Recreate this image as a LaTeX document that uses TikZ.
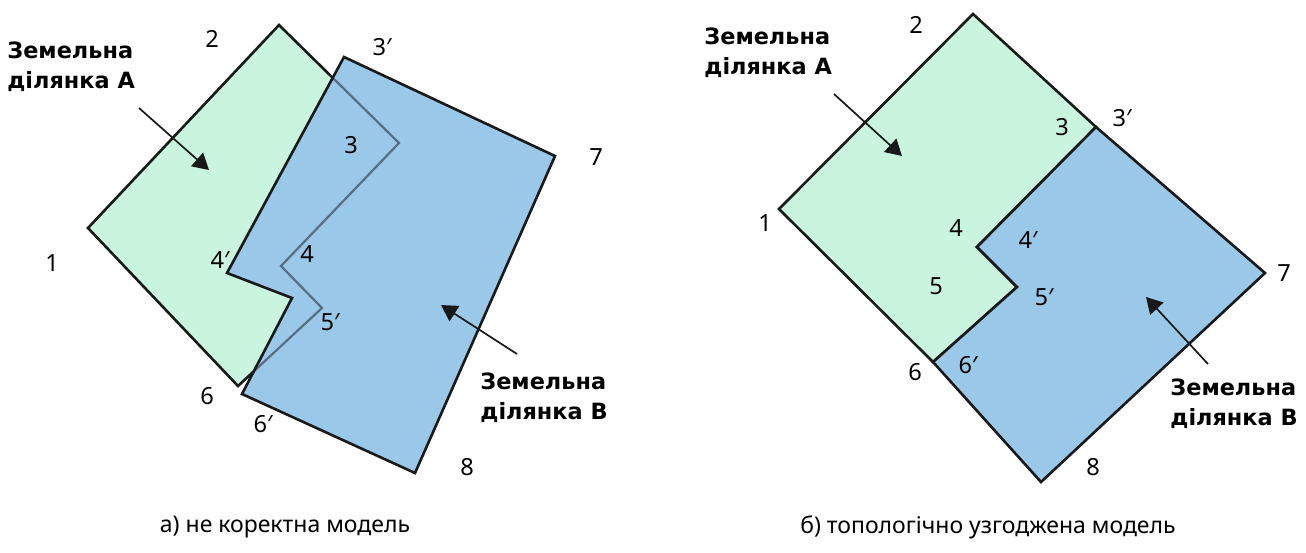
\documentclass[tikz,border=0pt]{standalone}
\usepackage{fontspec}
\setmainfont{Noto Sans}
\newfontfamily\titlefont{DejaVu Sans}
\usetikzlibrary{arrows.meta}
\definecolor{plotgreen}{RGB}{201,245,223}
\definecolor{plotblue}{RGB}{154,200,232}
\definecolor{hiddenline}{RGB}{88,110,130}
\begin{document}
\begin{tikzpicture}[x=0.5pt,y=-0.5pt,
		plotA/.style={fill=plotgreen,draw=black!90,line width=1.3pt,line join=miter},
		plotB/.style={fill=plotblue,draw=black!90,line width=1.3pt,line join=miter},
		hidden/.style={draw=hiddenline,line width=1.1pt},
		num/.style={font=\fontsize{11.8}{14}\selectfont,inner sep=0pt},
		plotname/.style={font=\titlefont\bfseries\fontsize{11.2}{15}\selectfont,align=left,anchor=west,inner sep=0pt},
		pointer/.style={draw=black!90,line width=0.85pt,-{Triangle[length=8pt,width=9pt]}},
		caption/.style={font=\fontsize{11.5}{14}\selectfont}]
	\useasboundingbox (0,0) rectangle (1306,552);
	% a) vertices
	\coordinate (a1) at (88,228);   \coordinate (a2) at (279,25);
	\coordinate (a3) at (399,143);  \coordinate (a4) at (281,266);
	\coordinate (a5) at (322,308);  \coordinate (a6) at (238,386);
	\coordinate (b3) at (344,57);   \coordinate (b7) at (555,156);
	\coordinate (b8) at (415,473);  \coordinate (b6) at (242,394);
	\coordinate (b5) at (292,298);  \coordinate (b4) at (227,273);
	% a) parcels
	\path[plotA] (a1) -- (a2) -- (a3) -- (a4) -- (a5) -- (a6) -- cycle;
	\path[plotB,draw=none] (b3) -- (b7) -- (b8) -- (b6) -- (b5) -- (b4) -- cycle;
	\begin{scope}
		\clip (b3) -- (b7) -- (b8) -- (b6) -- (b5) -- (b4) -- cycle;
		\path[hidden] (a1) -- (a2) -- (a3) -- (a4) -- (a5) -- (a6) -- cycle;
	\end{scope}
	\path[plotB,fill=none] (b3) -- (b7) -- (b8) -- (b6) -- (b5) -- (b4) -- cycle;
	% a) labels
	\node[num] (na2) at (212,39) {2};
	\node[num] (na3') at (382,47) {3′};
	\node[num] (na3) at (351,145) {3};
	\node[num] (na7) at (596,157) {7};
	\node[num] (na1) at (52,263) {1};
	\node[num] (na4') at (220,260) {4′};
	\node[num] (na4) at (307,254) {4};
	\node[num] (na5') at (330,322) {5′};
	\node[num] (na6) at (207,396) {6};
	\node[num] (na6') at (263,424) {6′};
	\node[num] (na8) at (467,467) {8};
	\node[plotname] (titleA) at (7,67) {Земельна\\ділянка А};
	\node[plotname] (titleB) at (480,398) {Земельна\\ділянка В};
	\coordinate (fromA) at (139,108); \coordinate (toA) at (209,170);
	\coordinate (fromB) at (517,354); \coordinate (toB) at (441,305);
	\draw[pointer] (fromA) -- (toA);
	\draw[pointer] (fromB) -- (toB);
	\node[caption] (capA) at (285,527) {а) не коректна модель};
	% b) vertices
	\coordinate (r1) at (779,209);  \coordinate (r2) at (973,14);
	\coordinate (r3) at (1096,127); \coordinate (r4) at (977,247);
	\coordinate (r5) at (1017,287); \coordinate (r6) at (933,362);
	\coordinate (r7) at (1265,273); \coordinate (r8) at (1041,482);
	% b) parcels
	\path[plotA] (r1) -- (r2) -- (r3) -- (r4) -- (r5) -- (r6) -- cycle;
	\path[plotB] (r3) -- (r7) -- (r8) -- (r6) -- (r5) -- (r4) -- cycle;
	% b) labels
	\node[num] (nb2) at (916,25) {2};
	\node[num] (nb3) at (1062,127) {3};
	\node[num] (nb3') at (1122,118) {3′};
	\node[num] (nb1) at (765,223) {1};
	\node[num] (nb4) at (956,228) {4};
	\node[num] (nb4') at (1028,240) {4′};
	\node[num] (nb5) at (936,286) {5};
	\node[num] (nb5') at (1044,297) {5′};
	\node[num] (nb7) at (1284,273) {7};
	\node[num] (nb6) at (915,372) {6};
	\node[num] (nb6') at (968,365) {6′};
	\node[num] (nb8) at (1093,467) {8};
	\node[plotname] (titleRA) at (704,53) {Земельна\\ділянка А};
	\node[plotname] (titleRB) at (1170,404) {Земельна\\ділянка В};
	\coordinate (fromRA) at (834,94);   \coordinate (toRA) at (902,156);
	\coordinate (fromRB) at (1208,364); \coordinate (toRB) at (1146,297);
	\draw[pointer] (fromRA) -- (toRA);
	\draw[pointer] (fromRB) -- (toRB);
	\node[caption] (capB) at (988,527) {б) топологічно узгоджена модель};
\end{tikzpicture}
\end{document}
